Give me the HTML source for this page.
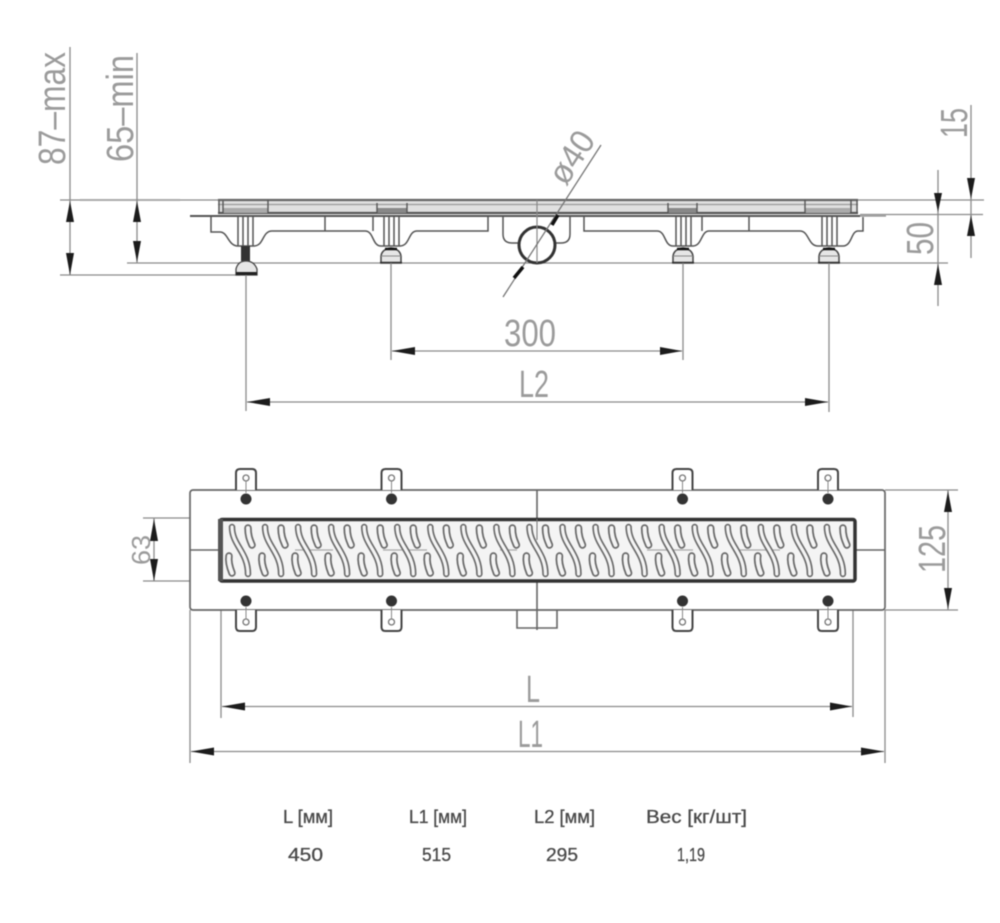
<!DOCTYPE html>
<html lang="ru">
<head>
<meta charset="utf-8">
<title>Drain dimensions</title>
<style>
html,body{margin:0;padding:0;background:#fff;width:1000px;height:923px;overflow:hidden}
svg{display:block;filter:blur(.5px)}
.d{font-family:"Liberation Sans",sans-serif;fill:#9b9b9b;font-size:38px}
.t{font-family:"Liberation Sans","Noto Sans CJK SC",sans-serif;fill:#4a4a4a;stroke:#4a4a4a;stroke-width:.3px;font-size:18px}
.l{fill:none;stroke:#8a8a8a;stroke-width:1.3}
.s{fill:none;stroke:#555;stroke-width:1.5}
.o{fill:none;stroke:#666;stroke-width:1.6}
.a{fill:#1c1c1c}
</style>
</head>
<body>
<svg width="1000" height="923" viewBox="0 0 1000 923" xmlns="http://www.w3.org/2000/svg">
<defs>
<g id="cell">
  <g fill="none" stroke="#6a6a6a" stroke-linecap="round">
    <path stroke-width="6.500" d="M232 527C232 545 248 552 248 574"/>
    <path stroke-width="7.500" d="M248 528C248 536 250 540 252 545"/>
    <path stroke-width="7.500" d="M229 556C228 562 230 568 232 573"/>
  </g>
  <g fill="none" stroke="#f4f4f4" stroke-linecap="round">
    <path stroke-width="3.200" d="M232 527C232 545 248 552 248 574"/>
    <path stroke-width="4" d="M248 528C248 536 250 540 252 545"/>
    <path stroke-width="4" d="M229 556C228 562 230 568 232 573"/>
  </g>
</g>
<g id="tabT">
  <path d="M-10 21V4Q-10 0-6 0H6Q10 0 10 4V21" fill="#fff" stroke="#444" stroke-width="2"/>
  <circle cx="0" cy="9" r="3" fill="#fff" stroke="#777" stroke-width="1.300"/>
  <path d="M0 12V24" stroke="#888" stroke-width="1"/>
  <circle cx="0" cy="30" r="5.500" fill="#333"/>
</g>
<g id="tabB">
  <path d="M-10 0V17Q-10 21-6 21H6Q10 21 10 17V0" fill="#fff" stroke="#444" stroke-width="2"/>
  <circle cx="0" cy="12" r="3" fill="#fff" stroke="#777" stroke-width="1.300"/>
  <path d="M0 -3V9" stroke="#888" stroke-width="1"/>
  <circle cx="0" cy="-9" r="5.500" fill="#333"/>
</g>
<g id="foot">
  <path d="M-10 16V9Q-9 2 0 1Q9 2 10 9V16Z" fill="#e6e6e6" stroke="#444" stroke-width="1.500"/>
  <path d="M-6 2H6" stroke="#111" stroke-width="2.500"/>
  <path d="M-10 9H10" stroke="#888" stroke-width="1"/>
  <path d="M-11 15.500H11" stroke="#333" stroke-width="1.500"/>
</g>
<g id="pillar">
  <path d="M-7 216V246M-2 216V246M3 216V246M8 216V246" fill="none" stroke="#555" stroke-width="1.500"/>
</g>
</defs>

<rect width="1000" height="923" fill="#fff"/>

<!-- top view: extension lines -->
<path class="l" d="M60 200H218M857 200H984M860 214.500H983M127 263H948M60 275H240" stroke-width="1.500"/>
<path d="M80 200H180" stroke="#aaa" stroke-width="2"/>

<!-- rail -->
<rect x="218" y="200" width="640" height="13" fill="#e0e0e0"/>
<path d="M218 200H858" stroke="#666" stroke-width="2.200"/>
<path d="M218 204.500H858" stroke="#999" stroke-width="1.200"/>
<path d="M218 213H858" stroke="#555" stroke-width="2.200"/>
<rect x="223" y="208" width="45" height="5" fill="#aaa"/>
<rect x="377" y="208" width="30" height="5" fill="#888"/>
<rect x="668" y="208" width="29" height="5" fill="#888"/>
<rect x="805" y="208" width="45" height="5" fill="#aaa"/>
<path d="M219 201V213M223 201V213M268 200V213M377 203V213M407 203V213M668 203V213M697 203V213M805 200V213M851 200V213M857 200V213" stroke="#555" stroke-width="1.400" fill="none"/>
<path d="M190 216H860" stroke="#555" stroke-width="2"/>
<path d="M860 216H886" stroke="#888" stroke-width="1.200"/>

<!-- bracket profiles -->
<path class="s" d="M211 217V232H220C228 232 228 246 238 246H254C264 246 262 231 272 231H365C374 231 372 246 381 246H400C410 246 408 231 417 231H488V217"/>
<path class="s" d="M584 217V231H657C666 231 664 246 673 246H693C702 246 701 231 709 231H800C809 231 808 246 818 246H843C852 246 851 231 858 231H863V217"/>
<path class="s" d="M325 216V231M373 216V231M749 216V231M702 216V231"/>
<use href="#pillar" x="245"/>
<use href="#pillar" x="391"/>
<use href="#pillar" x="683"/>
<use href="#pillar" x="829"/>
<use href="#foot" x="391" y="247"/>
<use href="#foot" x="683" y="247"/>
<use href="#foot" x="829" y="247"/>
<rect x="241" y="246" width="9" height="15" fill="#333"/>
<path d="M236 275V269Q238 261 246 261Q254 261 257 269V275Z" fill="#e6e6e6" stroke="#444" stroke-width="1.300"/>
<path d="M236 273.500H257" stroke="#222" stroke-width="3"/>

<!-- pipe -->
<path class="s" d="M503 216V234Q503 243 512 243H520M570 216V234Q570 243 561 243H554" stroke-width="1.300"/>
<circle cx="537" cy="245" r="18" fill="#fff" stroke="#333" stroke-width="3"/>
<path d="M537 200V263" stroke="#888" stroke-width="1.200"/>
<path d="M503 297L601 145" stroke="#777" stroke-width="1.300"/>
<path d="M558 215L552 225M523 267L514 278" stroke="#111" stroke-width="3.500"/>
<text class="d" transform="translate(566 187) rotate(-57)" textLength="56" lengthAdjust="spacingAndGlyphs" style="font-size:34px">ø40</text>

<!-- left height dims -->
<path class="l" d="M70 47V275M137 53V263"/>
<path class="a" d="M70 201L66 222H74Z M70 275L66 253H74Z M137 201L133 222H141Z M137 262L133 241H141Z"/>
<text class="d" transform="translate(65 165) rotate(-90)" textLength="113" lengthAdjust="spacingAndGlyphs">87–max</text>
<text class="d" transform="translate(133 162) rotate(-90)" textLength="107" lengthAdjust="spacingAndGlyphs">65–min</text>

<!-- right height dims -->
<path class="l" d="M971 105V258M938 170V306"/>
<path class="a" d="M971 199L967 178H975Z M971 215L967 236H975Z M938 212L934 193H942Z M938 264L934 285H942Z"/>
<text class="d" transform="translate(967 138) rotate(-90)" textLength="30" lengthAdjust="spacingAndGlyphs">15</text>
<text class="d" transform="translate(933 255) rotate(-90)" textLength="33" lengthAdjust="spacingAndGlyphs">50</text>

<!-- 300 / L2 -->
<path class="l" d="M391 263V360M683 263V360M246 275V411M829 263V412M392 351H682M247 402H828"/>
<path class="a" d="M392 351L415 347V355Z M682 351L660 347V355Z M247 402L270 398V406Z M828 402L805 398V406Z"/>
<text class="d" x="504" y="346" textLength="52" lengthAdjust="spacingAndGlyphs">300</text>
<text class="d" x="519" y="397" textLength="30" lengthAdjust="spacingAndGlyphs">L2</text>

<!-- plan view -->
<path class="l" d="M190 610V763M885 610V763M221 582V718M853 582V717M885 490H958M885 610H958M143 518H219M143 581H219M154 518V581M948 490V610M222 706.500H852M191 751.500H884"/>
<rect x="190" y="490" width="695" height="120" rx="3" fill="#fff" stroke="#666" stroke-width="1.700"/>
<path class="o" d="M190 550H219M855 550H885M537 490V630"/>
<path class="o" d="M517 610V628H557V610"/>
<use href="#tabT" x="246" y="469"/>
<use href="#tabT" x="391.500" y="469"/>
<use href="#tabT" x="682.500" y="469"/>
<use href="#tabT" x="828" y="469"/>
<use href="#tabB" x="246" y="610"/>
<use href="#tabB" x="391.500" y="610"/>
<use href="#tabB" x="682.500" y="610"/>
<use href="#tabB" x="828" y="610"/>

<!-- grate -->
<rect x="220" y="519.500" width="635" height="61.500" rx="2" fill="#f4f4f4" stroke="#333" stroke-width="3.500"/>
<path d="M220.500 519V581" stroke="#555" stroke-width="5"/>
<path d="M295 550H333M383 550H427M500 550H517M647 550H693M740 550H780" stroke="#aaa" stroke-width="1.200"/>
<use href="#cell"/>
<use href="#cell" x="33.050"/>
<use href="#cell" x="66.100"/>
<use href="#cell" x="99.150"/>
<use href="#cell" x="132.200"/>
<use href="#cell" x="165.250"/>
<use href="#cell" x="198.300"/>
<use href="#cell" x="231.350"/>
<use href="#cell" x="264.400"/>
<use href="#cell" x="297.450"/>
<use href="#cell" x="330.500"/>
<use href="#cell" x="363.550"/>
<use href="#cell" x="396.600"/>
<use href="#cell" x="429.650"/>
<use href="#cell" x="462.700"/>
<use href="#cell" x="495.750"/>
<use href="#cell" x="528.800"/>
<use href="#cell" x="561.850"/>
<use href="#cell" x="594.900"/>
<path d="M537 519V540" stroke="#777" stroke-width="1"/>

<!-- plan dims -->
<path class="a" d="M154 519L150 541H158Z M154 581L150 559H158Z M948 491L944 512H952Z M948 609L944 588H952Z M222 706.500L245 702.500V710.500Z M852 706.500L830 702.500V710.500Z M191 751.500L214 747.500V755.500Z M884 751.500L861 747.500V755.500Z"/>
<text class="d" transform="translate(150 565) rotate(-90)" textLength="30" lengthAdjust="spacingAndGlyphs" style="font-size:26px">63</text>
<text class="d" transform="translate(945 573) rotate(-90)" textLength="48" lengthAdjust="spacingAndGlyphs">125</text>
<text class="d" x="526" y="702" textLength="14" lengthAdjust="spacingAndGlyphs">L</text>
<text class="d" x="518" y="747" textLength="25" lengthAdjust="spacingAndGlyphs">L1</text>

<!-- table -->
<text class="t" x="283" y="823" textLength="50" lengthAdjust="spacingAndGlyphs">L [мм]</text>
<text class="t" x="409" y="823" textLength="58" lengthAdjust="spacingAndGlyphs">L1 [мм]</text>
<text class="t" x="534" y="823" textLength="61" lengthAdjust="spacingAndGlyphs">L2 [мм]</text>
<text class="t" x="646" y="823" textLength="101" lengthAdjust="spacingAndGlyphs">Вес [кг/шт]</text>
<text class="t" x="288" y="861" textLength="35" lengthAdjust="spacingAndGlyphs">450</text>
<text class="t" x="422" y="861" textLength="29" lengthAdjust="spacingAndGlyphs">515</text>
<text class="t" x="546" y="861" textLength="32" lengthAdjust="spacingAndGlyphs">295</text>
<text class="t" x="677" y="861" textLength="28" lengthAdjust="spacingAndGlyphs">1,19</text>
</svg>
</body>
</html>
